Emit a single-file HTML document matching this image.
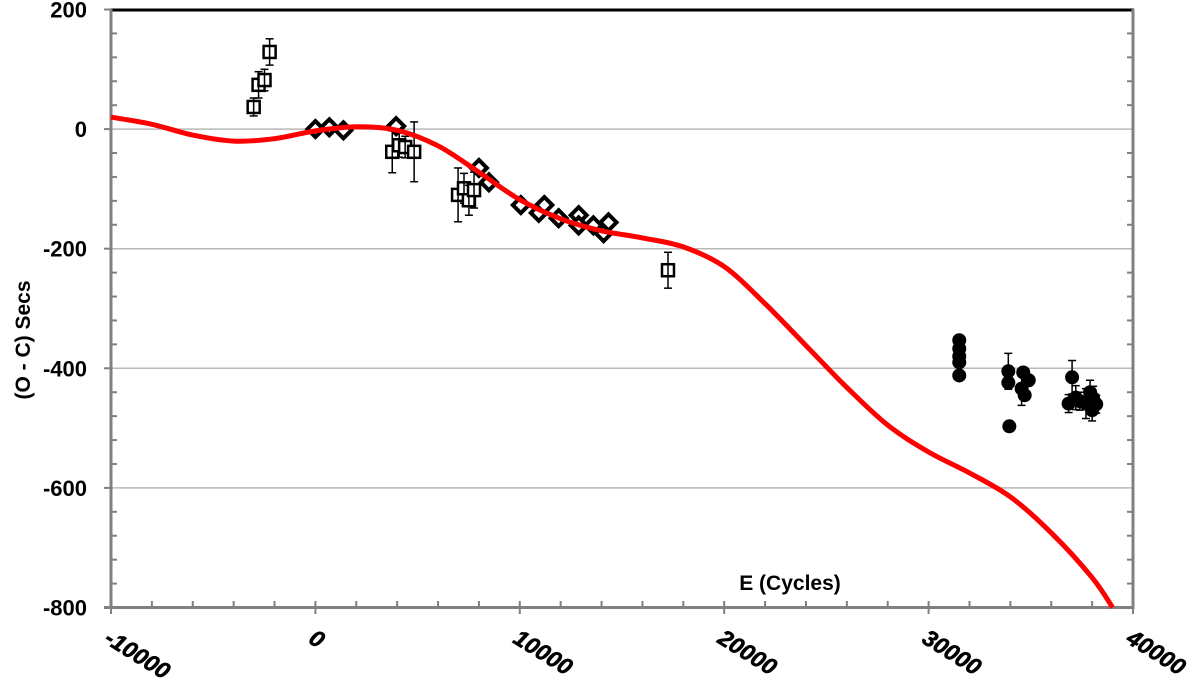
<!DOCTYPE html>
<html><head><meta charset="utf-8"><style>
body{margin:0;background:#fff;}
svg text{font-family:"Liberation Sans",Arial,sans-serif;font-weight:bold;}
</style></head><body>
<svg id="chart" width="1200" height="684" viewBox="0 0 1200 684" xmlns="http://www.w3.org/2000/svg">
<g id="grid"></g>
<g id="axes"></g>
<g id="pts"></g>
<g id="curve"></g>
<text x="790" y="590" font-size="21" text-anchor="middle">E (Cycles)</text>
<text transform="translate(30,340) rotate(-90)" font-size="21" text-anchor="middle">(O - C) Secs</text>
</svg>
<script>
const xTicks=[-10000,0,10000,20000,30000,40000];
const yTicks=[200,0,-200,-400,-600,-800];
const curveE=[-10000,-8000,-6000,-4000,-2000,0,2000,4000,6000,8000,10000,12000,14000,16000,18000,20000,22000,24000,26000,28000,30000,32000,34000,36000,38000,39000];
const curveV=[20,8,-10,-20,-16,-3,4,-2,-28,-72,-118,-150,-170,-182,-197,-230,-292,-362,-432,-495,-540,-575,-615,-675,-750,-800];
const sqE=[-3020,-2780,-2490,-2240,3760,4100,4390,4830,6980,7270,7510,7760,17250];
const sqV=[37,74,82,129,-38,-27,-30,-38,-110,-99,-119,-102,-236];
const sqErr=[15,22,18,22,35,20,18,50,45,25,25,30,30];
const diE=[0,680,1370,3950,8000,8490,10050,10930,11200,11900,12880,12880,13600,14100,14340];
const diV=[0,3,-2,5,-65,-89,-127,-140,-127,-149,-144,-161,-161,-174,-156];
const ciE=[31500,31500,31500,31500,31500,33900,33900,33950,34630,34900,34550,34700,37020,36850,37200,37400,37700,37900,38050,38000,38200];
const ciV=[-353,-367,-380,-390,-412,-405,-424,-497,-407,-420,-434,-445,-415,-459,-449,-455,-459,-440,-450,-470,-460];
const ciErr=[0,0,0,0,0,30,0,0,0,0,28,0,28,15,20,15,25,20,20,18,15];
const NS="http://www.w3.org/2000/svg";
const X=e=>111+(e+10000)*1022/50000;
const Y=v=>9.5+(200-v)*598/1000;
function mk(tag,at,parent){const el=document.createElementNS(NS,tag);for(const k in at)el.setAttribute(k,at[k]);document.getElementById(parent).appendChild(el);return el;}
[0,-200,-400,-600].forEach(v=>{const l=mk('line',{x1:111,x2:1133,y1:Y(v),y2:Y(v),stroke:'#b8b8b8','stroke-width':1.5},'grid');

});
mk('line',{x1:111,x2:1134,y1:10,y2:10,stroke:'#000','stroke-width':3},'axes');
mk('line',{x1:111,x2:111,y1:9,y2:609,stroke:'#808080','stroke-width':3},'axes');
mk('line',{x1:1133,x2:1133,y1:9,y2:609,stroke:'#808080','stroke-width':3},'axes');
mk('line',{x1:104,x2:1134,y1:607.5,y2:607.5,stroke:'#808080','stroke-width':3},'axes');
for(let v=200;v>=-800;v-=40){const y=Y(v);
 if(v%200===0){mk('line',{x1:104,x2:111,y1:y,y2:y,stroke:'#808080','stroke-width':2},'axes');}
 else{mk('line',{x1:111,x2:117,y1:y,y2:y,stroke:'#808080','stroke-width':2},'axes');mk('line',{x1:1127,x2:1133,y1:y,y2:y,stroke:'#808080','stroke-width':2},'axes');}}
for(let e=-10000;e<=40000;e+=2000){const x=X(e);mk('line',{x1:x,x2:x,y1:601,y2:e%10000===0?614:607,stroke:'#808080','stroke-width':2},'axes');}
yTicks.forEach(v=>{const t=mk('text',{x:87,y:Y(v)+8,'font-size':22,'text-anchor':'end'},'axes');t.textContent=v;

});
xTicks.forEach(e=>{const t=mk('text',{transform:`translate(${X(e)-8},${642}) rotate(32)`,'font-size':23,'font-style':'italic','stroke':'#000','stroke-width':0.6},'axes');t.textContent=e;

});
// smooth curve via Catmull-Rom
const P=curveE.map((e,i)=>[X(e),Y(curveV[i])]);
let d='M'+P[0][0].toFixed(1)+','+P[0][1].toFixed(1);
for(let i=0;i<P.length-1;i++){const p0=P[Math.max(0,i-1)],p1=P[i],p2=P[i+1],p3=P[Math.min(P.length-1,i+2)];
 const c1=[p1[0]+(p2[0]-p0[0])/6,p1[1]+(p2[1]-p0[1])/6],c2=[p2[0]-(p3[0]-p1[0])/6,p2[1]-(p3[1]-p1[1])/6];
 d+=`C${c1[0].toFixed(1)},${c1[1].toFixed(1)} ${c2[0].toFixed(1)},${c2[1].toFixed(1)} ${p2[0].toFixed(1)},${p2[1].toFixed(1)}`;}
const c=mk('path',{d:d,fill:'none',stroke:'#ff0000','stroke-width':5,'stroke-linejoin':'round'},'curve');


function err(x,v,e){if(!e)return;const y1=Y(v+e),y2=Y(v-e);
 mk('line',{x1:x,x2:x,y1:y1,y2:y2,stroke:'#000','stroke-width':1.5},'pts');
 mk('line',{x1:x-4,x2:x+4,y1:y1,y2:y1,stroke:'#000','stroke-width':1.5},'pts');
 mk('line',{x1:x-4,x2:x+4,y1:y2,y2:y2,stroke:'#000','stroke-width':1.5},'pts');}
sqE.forEach((e,i)=>{const x=X(e),y=Y(sqV[i]);err(x,sqV[i],sqErr[i]);
 const r=mk('rect',{x:x-6,y:y-6,width:12,height:12,fill:'#fff',stroke:'#000','stroke-width':2.5},'pts');
 
 
 mk('line',{x1:x,x2:x,y1:y-6,y2:y+6,stroke:'#000','stroke-width':1.5},'pts');});
diE.forEach((e,i)=>{const x=X(e),y=Y(diV[i]);err(x,diV[i],10);
 const p=mk('path',{d:`M${x},${y-8}L${x+8},${y}L${x},${y+8}L${x-8},${y}Z`,fill:'#fff',stroke:'#000','stroke-width':4},'pts');
 
 });
ciE.forEach((e,i)=>{const x=X(e),y=Y(ciV[i]);err(x,ciV[i],ciErr[i]);
 const p=mk('circle',{cx:x,cy:y,r:7,fill:'#000'},'pts');
 
 });
</script>
</body></html>
